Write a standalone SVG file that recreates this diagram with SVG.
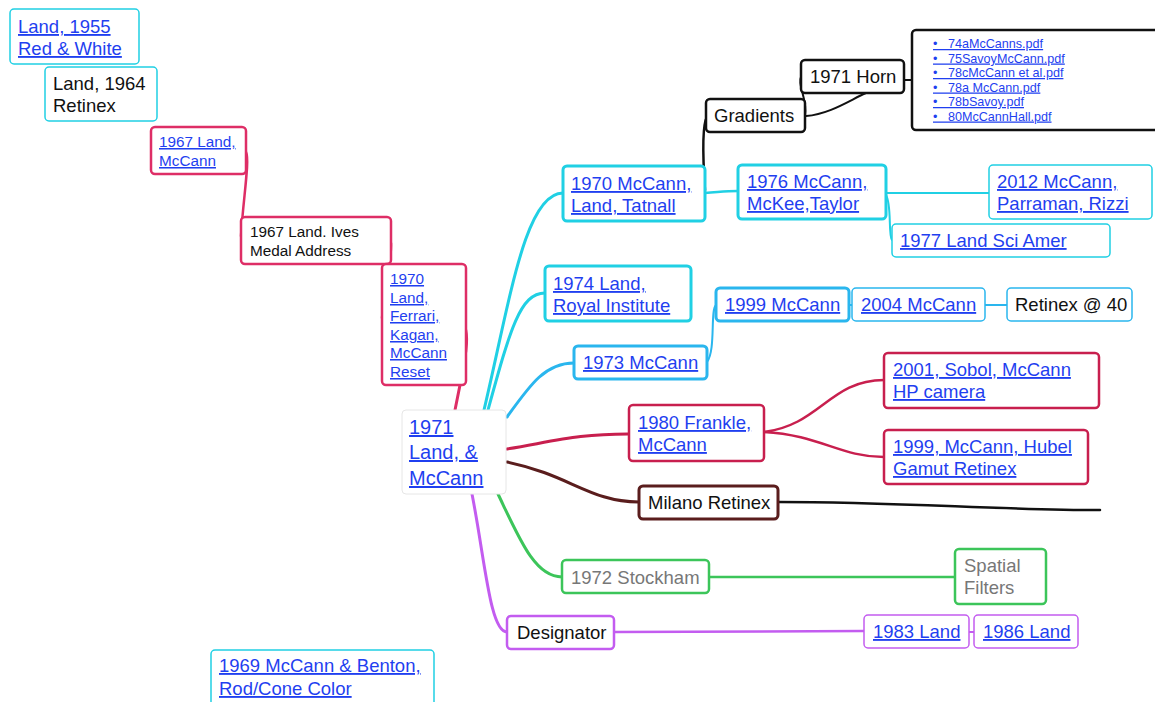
<svg xmlns="http://www.w3.org/2000/svg" width="1155" height="702" viewBox="0 0 1155 702">
<style>
text{font-family:"Liberation Sans",Arial,sans-serif;font-size:18.5px;fill:#111}
.lk{fill:#1f3ff0;text-decoration:underline}
.gy{fill:#777}
.s14{font-size:15.3px}
.s12{font-size:12.6px}
.s20{font-size:20px}
rect{fill:#fff;rx:4px;ry:4px}
.cy{stroke:#20d0e4;stroke-width:3}
.cyt{stroke:#20d0e4;stroke-width:1.5}
.sk{stroke:#2ab6ee;stroke-width:3}
.skt{stroke:#2ab6ee;stroke-width:1.5}
.pk{stroke:#de2e66;stroke-width:2.5}
.cr{stroke:#c81f4e;stroke-width:2.5}
.br{stroke:#5a1d1d;stroke-width:3}
.gr{stroke:#3cc55a;stroke-width:2.5}
.pu{stroke:#c35cf0;stroke-width:2.5}
.put{stroke:#c35cf0;stroke-width:1.5}
.bk{stroke:#111;stroke-width:2.5}
.rt{stroke:#e6e6e6;stroke-width:1}
#connectors path{fill:none;stroke-linecap:round}
</style>

<g id="connectors">
  <path d="M484,410 C510,300 525,193 563,193" stroke="#20d0e4" stroke-width="3"/>
  <path d="M488,410 C510,330 520,293 545,293" stroke="#20d0e4" stroke-width="3"/>
  <path d="M507,417 C530,385 545,363 574,363" stroke="#2ab6ee" stroke-width="3"/>
  <path d="M507,449 C560,440 580,434 628,434" stroke="#c81f4e" stroke-width="3"/>
  <path d="M507,462 C570,475 590,502 639,502" stroke="#5a1d1d" stroke-width="3"/>
  <path d="M498,494 C520,540 535,577 562,577" stroke="#3cc55a" stroke-width="3"/>
  <path d="M472,494 C485,560 490,632 507,632" stroke="#c35cf0" stroke-width="3"/>
  <path d="M455,410 L460,385" stroke="#de2e66" stroke-width="3"/>
  <path d="M246,152 C250,160 243,200 241,236" stroke="#de2e66" stroke-width="2.5"/>
  <path d="M391,243 C392,260 384,290 382,318" stroke="#de2e66" stroke-width="2.5"/>
  <path d="M466,330 C468,340 466,350 466,352" stroke="#de2e66" stroke-width="2.5"/>
  <path d="M705,190 C703,160 702,125 707,117" stroke="#111" stroke-width="2.5"/>
  <path d="M705,193 C720,192 725,191 738,191" stroke="#20d0e4" stroke-width="2.5"/>
  <path d="M805,116 C808,100 797,85 801,77" stroke="#111" stroke-width="2"/>
  <path d="M806,116 C830,114 850,100 866,93" stroke="#111" stroke-width="2"/>
  <path d="M904,80 L912,80" stroke="#111" stroke-width="2"/>
  <path d="M886,193 L989,193" stroke="#20d0e4" stroke-width="2"/>
  <path d="M886,195 C892,205 888,235 892,240" stroke="#20d0e4" stroke-width="2"/>
  <path d="M707,362 C716,350 710,310 716,305" stroke="#2ab6ee" stroke-width="2"/>
  <path d="M849,305 L852,305" stroke="#2ab6ee" stroke-width="2"/>
  <path d="M985,305 L1007,305" stroke="#2ab6ee" stroke-width="2"/>
  <path d="M764,432 C820,425 830,380 884,380" stroke="#c81f4e" stroke-width="2.5"/>
  <path d="M764,432 C820,435 840,457 884,457" stroke="#c81f4e" stroke-width="2.5"/>
  <path d="M778,502 C900,502 1000,510 1100,510" stroke="#111" stroke-width="2.5"/>
  <path d="M709,577 L955,577" stroke="#3cc55a" stroke-width="2.5"/>
  <path d="M614,632 L864,631" stroke="#c35cf0" stroke-width="2.5"/>
  <path d="M969,632 L974,632" stroke="#c35cf0" stroke-width="2"/>
</g>

<g id="n1955"><rect x="10" y="9" width="129" height="55" class="cyt"/><text class="lk" x="18" y="33">Land, 1955</text><text class="lk" x="18" y="55">Red &amp; White</text></g>
<g id="n1964"><rect x="45" y="67" width="112" height="54" class="cyt"/><text x="53" y="90">Land, 1964</text><text x="53" y="112">Retinex</text></g>
<g id="n1967a"><rect x="151" y="127" width="95" height="47" class="pk"/><text class="lk s14" x="159" y="147">1967 Land,</text><text class="lk s14" x="159" y="166">McCann</text></g>
<g id="n1967b"><rect x="241" y="217" width="150" height="47" class="pk"/><text class="s14" x="250" y="237">1967 Land. Ives</text><text class="s14" x="250" y="256">Medal Address</text></g>
<g id="n1970a"><rect x="382" y="264" width="84" height="121" class="pk"/>
<text class="lk s14" x="390" y="284">1970</text><text class="lk s14" x="390" y="303">Land,</text><text class="lk s14" x="390" y="321">Ferrari,</text><text class="lk s14" x="390" y="340">Kagan,</text><text class="lk s14" x="390" y="358">McCann</text><text class="lk s14" x="390" y="377">Reset</text></g>
<g id="root"><rect x="402" y="410" width="104" height="84" class="rt"/><text class="lk s20" x="409" y="434">1971</text><text class="lk s20" x="409" y="459">Land, &amp;</text><text class="lk s20" x="409" y="485">McCann</text></g>
<g id="n1970b"><rect x="563" y="166" width="142" height="55" class="cy"/><text class="lk" x="571" y="190">1970 McCann,</text><text class="lk" x="571" y="212">Land, Tatnall</text></g>
<g id="n1974"><rect x="545" y="266" width="146" height="55" class="cy"/><text class="lk" x="553" y="290">1974 Land,</text><text class="lk" x="553" y="312">Royal Institute</text></g>
<g id="n1973"><rect x="574" y="346" width="133" height="33" class="sk"/><text class="lk" x="583" y="369">1973 McCann</text></g>
<g id="n1980"><rect x="629" y="405" width="135" height="56" class="cr"/><text class="lk" x="638" y="429">1980 Frankle,</text><text class="lk" x="638" y="451">McCann</text></g>
<g id="milano"><rect x="639" y="486" width="139" height="33" class="br"/><text x="648" y="509">Milano Retinex</text></g>
<g id="n1972"><rect x="562" y="560" width="147" height="33" class="gr"/><text class="gy" x="571" y="584">1972 Stockham</text></g>
<g id="designator"><rect x="507" y="616" width="107" height="33" class="pu"/><text x="517" y="639">Designator</text></g>
<g id="gradients"><rect x="706" y="99" width="99" height="33" class="bk"/><text x="714" y="122">Gradients</text></g>
<g id="horn"><rect x="801" y="60" width="103" height="33" class="bk"/><text x="810" y="83">1971 Horn</text></g>
<g id="files"><rect x="912" y="30" width="250" height="100" class="bk" stroke-width="2"/>
<text class="lk s12" x="933" y="48">•&#160;&#160;&#160;74aMcCanns.pdf</text>
<text class="lk s12" x="933" y="62.5">•&#160;&#160;&#160;75SavoyMcCann.pdf</text>
<text class="lk s12" x="933" y="77">•&#160;&#160;&#160;78cMcCann et al.pdf</text>
<text class="lk s12" x="933" y="91.5">•&#160;&#160;&#160;78a McCann.pdf</text>
<text class="lk s12" x="933" y="106">•&#160;&#160;&#160;78bSavoy.pdf</text>
<text class="lk s12" x="933" y="120.5">•&#160;&#160;&#160;80McCannHall.pdf</text></g>
<g id="n1976"><rect x="738" y="165" width="148" height="54" class="cy"/><text class="lk" x="747" y="188">1976 McCann,</text><text class="lk" x="747" y="210">McKee,Taylor</text></g>
<g id="n2012"><rect x="989" y="165" width="163" height="54" class="cyt" stroke-width="2"/><text class="lk" x="997" y="188">2012 McCann,</text><text class="lk" x="997" y="210">Parraman, Rizzi</text></g>
<g id="n1977"><rect x="892" y="224" width="218" height="33" class="cyt" stroke-width="2"/><text class="lk" x="900" y="247">1977 Land Sci Amer</text></g>
<g id="n1999"><rect x="716" y="288" width="133" height="33" class="sk"/><text class="lk" x="725" y="311">1999 McCann</text></g>
<g id="n2004"><rect x="852" y="288" width="133" height="33" class="skt" stroke-width="2"/><text class="lk" x="861" y="311">2004 McCann</text></g>
<g id="retinex40"><rect x="1007" y="288" width="125" height="33" class="skt"/><text x="1015" y="311">Retinex @ 40</text></g>
<g id="n2001"><rect x="884" y="353" width="215" height="55" class="cr"/><text class="lk" x="893" y="376">2001, Sobol, McCann</text><text class="lk" x="893" y="398">HP camera</text></g>
<g id="n1999h"><rect x="884" y="430" width="204" height="54" class="cr"/><text class="lk" x="893" y="453">1999, McCann, Hubel</text><text class="lk" x="893" y="475">Gamut Retinex</text></g>
<g id="spatial"><rect x="955" y="549" width="91" height="55" class="gr"/><text class="gy" x="964" y="572">Spatial</text><text class="gy" x="964" y="594">Filters</text></g>
<g id="n1983"><rect x="864" y="615" width="105" height="33" class="put" stroke-width="2"/><text class="lk" x="873" y="638">1983 Land</text></g>
<g id="n1986"><rect x="974" y="615" width="104" height="33" class="put" stroke-width="2"/><text class="lk" x="983" y="638">1986 Land</text></g>
<g id="n1969"><rect x="211" y="650" width="223" height="60" class="cyt"/><text class="lk" x="219" y="672">1969 McCann &amp; Benton,</text><text class="lk" x="219" y="695">Rod/Cone Color</text></g>
</svg>
